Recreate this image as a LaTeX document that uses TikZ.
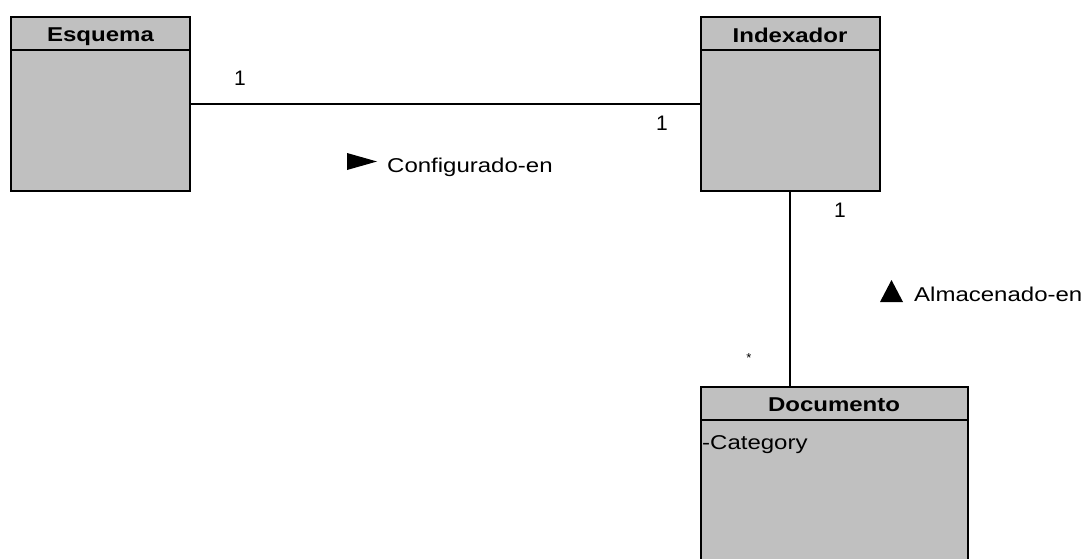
\documentclass[tikz,border=0pt]{standalone}
\usepackage{fontspec}
\setmainfont{Liberation Sans}
\definecolor{classgray}{RGB}{192,192,192}
\tikzset{
  umlclass/.style={draw=black, line width=2pt, fill=classgray, anchor=north west,
                   inner sep=0pt, outer sep=0pt},
  divider/.style={line width=2pt},
  assoc/.style={line width=1.7pt},
  headtext/.style={anchor=base, inner sep=0pt, font=\bfseries\fontsize{20}{24}\selectfont},
  lbl/.style={inner sep=0pt, font=\fontsize{20}{24}\selectfont},
  mult/.style={anchor=base, inner sep=0pt, font=\fontsize{21}{24}\selectfont},
}
\newcommand{\wide}[1]{\scalebox{1.2}[1]{#1}}
\begin{document}
\begin{tikzpicture}[x=1pt, y=-1pt]
  \clip (0,0) rectangle (1086,559);
  \fill[white] (0,0) rectangle (1086,559);

  % classes
  \node[umlclass, minimum width=179pt, minimum height=174pt] (esq) at (11,17) {};
  \draw[divider] (esq.west |- 0,50) -- (esq.east |- 0,50);
  \node[headtext] (esqT) at (100.5,42) {\wide{Esquema}};

  \node[umlclass, minimum width=179pt, minimum height=174pt] (idx) at (700.5,17) {};
  \draw[divider] (idx.west |- 0,50) -- (idx.east |- 0,50);
  \node[headtext] (idxT) at (790,42.5) {\wide{Indexador}};

  \node[umlclass, minimum width=267.5pt, minimum height=185pt] (doc) at (700.5,387) {};
  \draw[divider] (doc.west |- 0,420) -- (doc.east |- 0,420);
  \node[headtext] (docT) at (834,411.5) {\wide{Documento}};
  \node[lbl, anchor=base west] (docA) at (702,449) {\wide{-Category}};

  % associations
  \draw[assoc] (esq.east) -- (idx.west);
  \draw[assoc] (idx.south) -- (doc.north -| idx.south);

  % multiplicities
  \node[mult] (m1) at (240,86) {1};
  \node[mult] (m2) at (662,130) {1};
  \node[mult] (m3) at (840,217) {1};
  \node[inner sep=0pt, font=\fontsize{13}{14}\selectfont] (m4) at (749,358) {*};

  % association names with direction triangles
  \node[lbl, anchor=base west] (conf) at (387,172) {\wide{Configurado-en}};
  \fill (347,153) -- (377,161.5) -- (347,170) -- cycle;
  \node[lbl, anchor=base west] (alm) at (914,301.5) {\wide{Almacenado-en}};
  \fill (880,302) -- (891.5,280) -- (903,302) -- cycle;
\end{tikzpicture}
\end{document}
